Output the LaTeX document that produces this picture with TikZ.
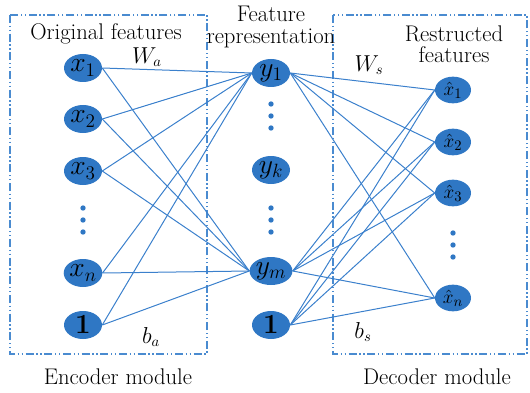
\documentclass[tikz,border=0pt]{standalone}
\usetikzlibrary{shapes.geometric}
\definecolor{nodeblue}{HTML}{2F77C4}
\definecolor{lineblue}{HTML}{3B80CC}
\definecolor{boxblue}{HTML}{4A8BD0}
\begin{document}
\begin{tikzpicture}[x=0.75pt,y=-0.75pt,
  neuron/.style={ellipse,fill=nodeblue,inner sep=0pt,minimum width=28.5pt,minimum height=21pt,font=\fontsize{21}{22}\selectfont},
  oneuron/.style={ellipse,fill=nodeblue,inner sep=0pt,minimum width=27pt,minimum height=20pt,font=\fontsize{15}{16}\selectfont},
  dotn/.style={circle,fill=nodeblue,inner sep=0pt,minimum size=4pt},
  conn/.style={draw=lineblue,line width=0.75pt},
  modbox/.style={draw=boxblue,line width=0.8pt,dash pattern=on 6pt off 2pt on 1pt off 2pt on 1pt off 2pt},
  lbl/.style={font=\fontsize{17}{19}\selectfont,align=center,inner sep=0pt},
  wlbl/.style={font=\fontsize{16}{18}\selectfont,inner sep=0pt}]
\useasboundingbox (0,0) rectangle (530,392);
% boxes
\draw[modbox] (10,15) rectangle (207,354);
\draw[modbox] (333,15) rectangle (527,354);
% input nodes
\node[neuron] (x1) at (83,68) {$x_1$};
\node[neuron] (x2) at (83,119) {$x_2$};
\node[neuron] (x3) at (83,171) {$x_3$};
\node[neuron] (xn) at (83,273) {$x_n$};
\node[neuron] (b1) at (83,325) {$\mathbf{1}$};
\node[dotn] (xd1) at (83,208) {};
\node[dotn] (xd2) at (83,220) {};
\node[dotn] (xd3) at (83,232) {};
% hidden nodes
\node[neuron] (y1) at (271,73) {$y_1$};
\node[neuron] (yk) at (271,170) {$y_k$};
\node[neuron] (ym) at (271,271) {$y_m$};
\node[neuron] (b2) at (271,325) {$\mathbf{1}$};
\node[dotn] (yd1) at (271,104) {};
\node[dotn] (yd2) at (271,116) {};
\node[dotn] (yd3) at (271,128) {};
\node[dotn] (yd4) at (271,208) {};
\node[dotn] (yd5) at (271,220) {};
\node[dotn] (yd6) at (271,232) {};
% output nodes
\node[oneuron] (h1) at (453,90) {$\hat{x}_1$};
\node[oneuron] (h2) at (453,142) {$\hat{x}_2$};
\node[oneuron] (h3) at (453,193) {$\hat{x}_3$};
\node[oneuron] (hn) at (453,298) {$\hat{x}_n$};
\node[dotn] (hd1) at (453,233) {};
\node[dotn] (hd2) at (453,245) {};
\node[dotn] (hd3) at (453,257) {};
% encoder connections
\foreach \s in {x1,x2,x3,xn,b1}{
  \draw[conn] (\s.east) -- (y1.west);
  \draw[conn] (\s.east) -- (ym.west);
}
% decoder connections
\foreach \s in {y1,ym,b2}{
  \foreach \t in {h1,h2,h3,hn}{
    \draw[conn] (\s.east) -- (\t.west);
  }
}
% labels
\node[lbl] (t1) at (106,34) {Original features};
\node[lbl] (t2) at (271,27) {Feature\\[-3pt]representation};
\node[lbl] (t3) at (454,44) {Restructed\\[-3pt]features};
\node[lbl] (t4) at (118,377) {Encoder module};
\node[lbl] (t5) at (437,377) {Decoder module};
\node[wlbl] (wa) at (147,57) {$W_a$};
\node[wlbl] (ws) at (369,65) {$W_s$};
\node[wlbl] (ba) at (151,337) {$b_a$};
\node[wlbl] (bs) at (363,332) {$b_s$};
\end{tikzpicture}
\end{document}
